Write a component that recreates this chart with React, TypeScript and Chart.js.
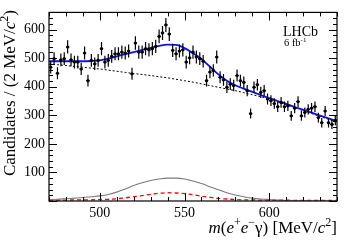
import { useEffect, useRef } from "react";
import { Chart, registerables } from "chart.js";
Chart.register(...registerables);

// Histogram binning (MeV/c^2)
const massMin = 470;
const massMax = 640;
const binWidth = 2;

// Candidates per 2 MeV/c^2 bin
const counts = [
  468, 498, 447, 494, 498, 539, 494, 486, 486, 462,
  518, 421, 492, 480, 492, 533, 486, 492, 506, 515,
  515, 521, 518, 525, 445, 553, 521, 521, 533, 529,
  533, 541, 576, 588, 616, 584, 527, 515, 525, 529,
  486, 501, 521, 504, 498, 489, 421, 451, 457, 504,
  433, 424, 398, 409, 404, 439, 421, 415, 386, 306,
  398, 407, 380, 386, 357, 351, 341, 330, 345, 330,
  333, 298, 325, 348, 298, 310, 321, 325, 330, 292,
  274, 315, 274, 268, 282,
];

// Fit curves, sampled every 5 MeV/c^2
const curveMass = [
  470, 475, 480, 485, 490, 495, 500, 505, 510, 515, 520, 525,
  530, 535, 540, 545, 550, 555, 560, 565, 570, 575, 580, 585,
  590, 595, 600, 605, 610, 615, 620, 625, 630, 635, 640,
];
const totalFit = [
  489, 489, 489, 489, 489, 490, 492, 498, 506, 514, 521, 528,
  536, 543, 547, 546, 535, 517, 497, 470, 443, 421, 405, 393,
  382, 371, 360, 350, 340, 329, 319, 309, 299, 289, 279,
];
const background = [
  479, 477, 474, 471, 468, 465, 462, 458, 454, 450, 446, 443,
  439, 435, 431, 426, 421, 416, 410, 404, 398, 392, 386, 379,
  372, 365, 357, 347, 337, 327, 316, 306, 296, 286, 277,
];
const signalGray = [
  5, 6, 8, 10, 12, 15, 18, 23, 31, 42, 54, 64,
  72, 77, 80, 80, 77, 70, 61, 50, 39, 29, 21, 15,
  10, 7, 5, 3, 2, 1, 1, 0, 0, 0, 0,
];
const signalRed = [
  3, 3, 3, 4, 4, 4, 5, 6, 8, 11, 15, 19,
  23, 27, 29, 28, 26, 22, 17, 13, 9, 7, 5, 4,
  4, 3, 3, 3, 3, 2, 2, 2, 2, 2, 2,
];

const xMajorTicks = [500, 550, 600];
const yMajorTicks = [100, 200, 300, 400, 500, 600];
const yMax = 660;

const SERIF = '"Liberation Serif", "Times New Roman", serif';

type Seg = { t: string; it?: boolean; sup?: boolean };

function drawRich(
  ctx: CanvasRenderingContext2D,
  segs: Seg[],
  x: number,
  y: number,
  size: number,
  align: "left" | "right"
) {
  const fontFor = (s: Seg) =>
    `${s.it ? "italic " : ""}${s.sup ? Math.round(size * 0.68) : size}px ${SERIF}`;
  let total = 0;
  for (const s of segs) {
    ctx.font = fontFor(s);
    total += ctx.measureText(s.t).width;
  }
  let cx = align === "right" ? x - total : x;
  ctx.textAlign = "left";
  ctx.textBaseline = "alphabetic";
  for (const s of segs) {
    ctx.font = fontFor(s);
    ctx.fillText(s.t, cx, s.sup ? y - size * 0.4 : y);
    cx += ctx.measureText(s.t).width;
  }
}

const decorPlugin = {
  id: "decor",
  afterDatasetsDraw(chart: any) {
    const ctx: CanvasRenderingContext2D = chart.ctx;
    const xs = chart.scales.x;
    const ys = chart.scales.y;
    ctx.save();
    ctx.strokeStyle = "#000";
    ctx.lineWidth = 1.2;
    counts.forEach((v, i) => {
      const c = massMin + binWidth * (i + 0.5);
      const err = Math.sqrt(v);
      const px = xs.getPixelForValue(c);
      const py = ys.getPixelForValue(v);
      ctx.beginPath();
      ctx.moveTo(px, ys.getPixelForValue(v - err));
      ctx.lineTo(px, ys.getPixelForValue(v + err));
      ctx.moveTo(xs.getPixelForValue(c - binWidth / 2), py);
      ctx.lineTo(xs.getPixelForValue(c + binWidth / 2), py);
      ctx.stroke();
    });
    ctx.restore();
  },
  afterDraw(chart: any) {
    const ctx: CanvasRenderingContext2D = chart.ctx;
    const a = chart.chartArea;
    const xs = chart.scales.x;
    const ys = chart.scales.y;
    ctx.save();
    ctx.strokeStyle = "#000";
    ctx.lineWidth = 1.2;
    ctx.strokeRect(a.left, a.top, a.right - a.left, a.bottom - a.top);
    ctx.lineWidth = 1;
    ctx.beginPath();
    for (let m = massMin; m <= massMax; m += 10) {
      const px = Math.round(xs.getPixelForValue(m)) + 0.5;
      const len = m % 50 === 0 ? 8 : 4;
      ctx.moveTo(px, a.bottom);
      ctx.lineTo(px, a.bottom - len);
      ctx.moveTo(px, a.top);
      ctx.lineTo(px, a.top + len);
    }
    for (let v = 0; v <= yMax; v += 20) {
      const py = Math.round(ys.getPixelForValue(v)) + 0.5;
      const len = v % 100 === 0 ? 8 : 4;
      ctx.moveTo(a.left, py);
      ctx.lineTo(a.left + len, py);
      ctx.moveTo(a.right, py);
      ctx.lineTo(a.right - len, py);
    }
    ctx.stroke();

    ctx.fillStyle = "#000";
    // x title
    drawRich(
      ctx,
      [
        { t: "m", it: true },
        { t: "(" },
        { t: "e", it: true },
        { t: "+", sup: true },
        { t: "e", it: true },
        { t: "\u2212", sup: true },
        { t: "\u03b3) [MeV/" },
        { t: "c", it: true },
        { t: "2", sup: true },
        { t: "]" },
      ],
      a.right,
      233,
      17,
      "right"
    );
    // y title
    ctx.save();
    ctx.translate(15, 10);
    ctx.rotate(-Math.PI / 2);
    drawRich(
      ctx,
      [
        { t: "Candidates / (2 MeV/" },
        { t: "c", it: true },
        { t: "2", sup: true },
        { t: ")" },
      ],
      0,
      0,
      17,
      "right"
    );
    ctx.restore();
    // LHCb label
    drawRich(ctx, [{ t: "LHCb" }], 283, 36, 14, "left");
    drawRich(ctx, [{ t: "6 fb" }, { t: "-1", sup: true }], 284, 46, 10.5, "left");
    ctx.restore();
  },
};

export default function App() {
  const ref = useRef<HTMLCanvasElement>(null);
  useEffect(() => {
    if (!ref.current) return;
    const points = counts.map((v, i) => ({ x: massMin + binWidth * (i + 0.5), y: v }));
    const line = (ys: number[]) => curveMass.map((m, i) => ({ x: m, y: ys[i] }));
    const chart = new Chart(ref.current, {
      type: "scatter",
      data: {
        datasets: [
          {
            label: "Data",
            data: points,
            pointRadius: 1.6,
            pointBackgroundColor: "#000",
            pointBorderWidth: 0,
            showLine: false,
            order: 0,
          },
          {
            label: "Total",
            data: line(totalFit),
            showLine: true,
            borderColor: "#1010f0",
            borderWidth: 1.8,
            pointRadius: 0,
            cubicInterpolationMode: "monotone",
            order: 1,
          },
          {
            label: "Background",
            data: line(background),
            showLine: true,
            borderColor: "#000",
            borderWidth: 1,
            borderDash: [2, 2],
            pointRadius: 0,
            cubicInterpolationMode: "monotone",
            order: 2,
          },
          {
            label: "Signal",
            data: line(signalGray),
            showLine: true,
            borderColor: "#7a7a7a",
            borderWidth: 1.1,
            pointRadius: 0,
            cubicInterpolationMode: "monotone",
            order: 3,
          },
          {
            label: "Signal 2",
            data: line(signalRed),
            showLine: true,
            borderColor: "#ff0000",
            borderWidth: 1.3,
            borderDash: [4, 3],
            pointRadius: 0,
            cubicInterpolationMode: "monotone",
            order: 4,
          },
        ],
      },
      options: {
        animation: false,
        responsive: false,
        maintainAspectRatio: false,
        events: [],
        layout: { padding: { left: 0, right: 17, top: 12, bottom: 0 } },
        plugins: { legend: { display: false }, tooltip: { enabled: false } },
        scales: {
          x: {
            type: "linear",
            min: massMin,
            max: massMax,
            border: { display: false },
            grid: { display: false, drawTicks: false },
            afterBuildTicks: (s: any) => {
              s.ticks = xMajorTicks.map((v) => ({ value: v }));
            },
            afterFit: (s: any) => {
              s.height = 39;
            },
            ticks: {
              autoSkip: false,
              maxRotation: 0,
              padding: 4,
              color: "#000",
              font: { family: SERIF, size: 14 },
            },
          },
          y: {
            type: "linear",
            min: 0,
            max: yMax,
            border: { display: false },
            grid: { display: false, drawTicks: false },
            afterBuildTicks: (s: any) => {
              s.ticks = yMajorTicks.map((v) => ({ value: v }));
            },
            afterFit: (s: any) => {
              s.width = 49;
            },
            ticks: {
              autoSkip: false,
              padding: 4,
              color: "#000",
              font: { family: SERIF, size: 14 },
            },
          },
        },
      },
      plugins: [decorPlugin],
    } as any);
    return () => chart.destroy();
  }, []);
  return (
    <div style={{ position: "absolute", left: 0, top: 0, width: 354, height: 240, background: "#fff" }}>
      <canvas ref={ref} width={354} height={240} style={{ display: "block" }} />
    </div>
  );
}
